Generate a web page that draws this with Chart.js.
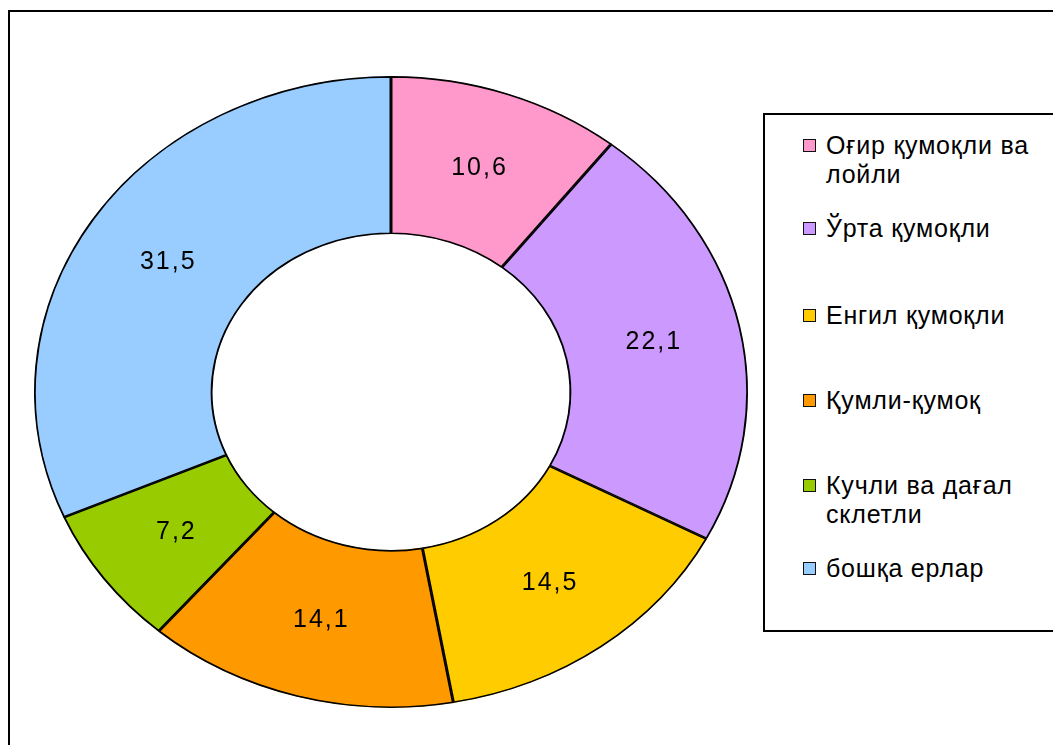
<!DOCTYPE html>
<html>
<head>
<meta charset="utf-8">
<script src="https://cdn.jsdelivr.net/npm/chart.js@4.4.0/dist/chart.umd.min.js"></script>
<style>
    body { margin: 0; background: #fff; overflow: hidden; width: 1053px; height: 745px; position: relative; font-family: "Liberation Sans", Arial, sans-serif; }
    #frame { position: absolute; left: 8px; top: 10px; width: 1100px; height: 800px; border: 2px solid #000; }
    #chart { position: absolute; left: 0; top: 0; }
    #legend { position: absolute; left: 763px; top: 113px; width: 320px; height: 515px; border: 2px solid #000; background: #fff; }
    .item { position: absolute; left: 38px; font-size: 25px; line-height: 29px; letter-spacing: 0.8px; color: #000; padding-left: 23px; white-space: nowrap; }
    .sw { position: absolute; left: 0; top: 8px; width: 11px; height: 11px; border: 1.5px solid #111; }
</style>
</head>
<body>
<div id="frame"></div>
<canvas id="chart" width="1053" height="745"></canvas>
<div id="legend"></div>
<script>
'use strict';

var categories = ['Оғир қумоқли ва\nлойли', 'Ўрта қумоқли', 'Енгил қумоқли', 'Қумли-қумоқ', 'Кучли ва дағал\nсклетли', 'бошқа ерлар'];
var shares = [10.6, 22.1, 14.5, 14.1, 7.2, 31.5];
var colors = ['#FF99CC', '#CC99FF', '#FFCC00', '#FF9900', '#99CC00', '#99CCFF'];
var legendTops = [16, 99, 186, 271, 356, 439];

var squash = 0.885;

// draw the ring as an ellipse, like the original
var ellipsePlugin = {
    id: 'ellipse',
    beforeDatasetsDraw: function(chart) {
        var arc = chart.getDatasetMeta(0).data[0];
        var ctx = chart.ctx;
        ctx.save();
        ctx.translate(0, arc.y);
        ctx.scale(1, squash);
        ctx.translate(0, -arc.y);
    },
    afterDatasetsDraw: function(chart) {
        chart.ctx.restore();
    }
};

var valueLabels = {
    id: 'valueLabels',
    afterDraw: function(chart) {
        var ctx = chart.ctx;
        var meta = chart.getDatasetMeta(0);
        ctx.save();
        ctx.font = '25px "Liberation Sans", Arial, sans-serif';
        ctx.fillStyle = '#000';
        ctx.textAlign = 'center';
        ctx.textBaseline = 'middle';
        if ('letterSpacing' in ctx) ctx.letterSpacing = '2px';
        for (var i = 0; i < meta.data.length; i++) {
            var p = meta.data[i].getProps(['x', 'y', 'startAngle', 'endAngle', 'innerRadius', 'outerRadius'], true);
            var mid = (p.startAngle + p.endAngle) / 2;
            var r = (p.innerRadius + p.outerRadius) / 2;
            var x = p.x + Math.cos(mid) * r;
            var y = p.y + Math.sin(mid) * r * squash;
            ctx.fillText(shares[i].toFixed(1).replace('.', ','), x + 1, y);
        }
        ctx.restore();
    }
};

var ctx = document.getElementById('chart').getContext('2d');
var chart = new Chart(ctx, {
    type: 'doughnut',
    data: {
        labels: categories,
        datasets: [{
            data: shares,
            backgroundColor: colors,
            borderColor: '#000',
            borderWidth: 1.5,
            borderAlign: 'inner'
        }]
    },
    options: {
        responsive: false,
        animation: false,
        radius: 357,
        cutout: '50%',
        layout: { padding: { left: 0, right: 271, top: 39, bottom: 0 } },
        plugins: {
            legend: { display: false },
            tooltip: { enabled: false }
        }
    },
    plugins: [ellipsePlugin, valueLabels]
});

var legendEl = document.getElementById('legend');
for (var i = 0; i < categories.length; i++) {
    var item = document.createElement('div');
    item.className = 'item';
    item.style.top = legendTops[i] + 'px';
    var sw = document.createElement('span');
    sw.className = 'sw';
    sw.style.background = colors[i];
    item.appendChild(sw);
    var lines = categories[i].split('\n');
    for (var j = 0; j < lines.length; j++) {
        if (j > 0) item.appendChild(document.createElement('br'));
        item.appendChild(document.createTextNode(lines[j]));
    }
    legendEl.appendChild(item);
}
</script>
</body>
</html>
